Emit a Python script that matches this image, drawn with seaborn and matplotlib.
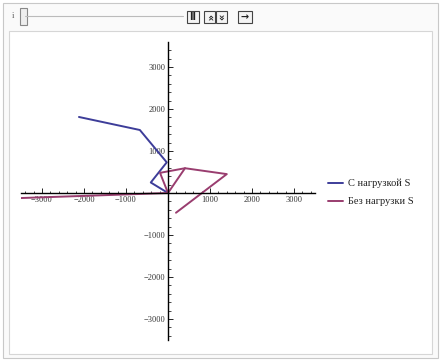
import numpy as np
import pandas as pd
import matplotlib
matplotlib.use("Agg")
import matplotlib.pyplot as plt
from matplotlib.patches import Rectangle
import seaborn as sns

# series data
blue_x = [-2120, -670, -30, -410, 0]
blue_y = [1810, 1500, 730, 250, 0]
red_x = [-3500, 0, -190, 405, 1400, 190]
red_y = [-120, 0, 480, 590, 450, -470]
red2_x = [0, 405]
red2_y = [0, 590]

names = ["С нагрузкой S", "Без нагрузки S"]
colors = ["#3d3d99", "#993d6f"]
ticks = [-3000, -2000, -1000, 1000, 2000, 3000]
tick_labels = ["\u22123000", "\u22122000", "\u22121000", "1000", "2000", "3000"]

df = pd.concat([
    pd.DataFrame({"x": blue_x, "y": blue_y, "series": names[0], "seg": 0, "o": range(len(blue_x))}),
    pd.DataFrame({"x": red_x, "y": red_y, "series": names[1], "seg": 1, "o": range(len(red_x))}),
    pd.DataFrame({"x": red2_x, "y": red2_y, "series": names[1], "seg": 2, "o": range(len(red2_x))}),
])

sns.set_style("white")
plt.rcParams["font.family"] = ["Liberation Serif", "DejaVu Serif"]

W, H = 441, 362
fig = plt.figure(figsize=(W / 100, H / 100), dpi=100)

def px(x, y):
    return x / W, 1 - y / H

# frame of the manipulate panel
fig.patches.append(Rectangle(px(3, 358), 435 / W, 355 / H, transform=fig.transFigure,
                             facecolor="#fafafa", edgecolor="#c8c8c8", lw=0.8, zorder=-5))
fig.patches.append(Rectangle(px(9, 354), 423 / W, 323 / H, transform=fig.transFigure,
                             facecolor="white", edgecolor="#d6d6d6", lw=0.8, zorder=-4))

# slider row
fig.text(*px(13, 16), "i", fontsize=6, color="#555555", ha="center", va="center")
fig.lines.append(plt.Line2D([25 / W, 183 / W], [1 - 16 / H] * 2, transform=fig.transFigure,
                            color="#bbbbbb", lw=0.8))
fig.patches.append(Rectangle(px(20, 25), 7 / W, 17 / H, transform=fig.transFigure,
                             facecolor="#eeeeee", edgecolor="#888888", lw=0.8))
for x0, w, s, rot in [(187, 12, "II", 0), (204, 11, "\u00ab", -90),
                      (216, 11, "\u00ab", 90), (238, 14, "\u2192", 0)]:
    fig.patches.append(Rectangle(px(x0, 23), w / W, 12 / H, transform=fig.transFigure,
                                 facecolor="#f4f4f4", edgecolor="#444444", lw=0.8))
    fig.text(*px(x0 + w / 2, 17), s, fontsize=7, ha="center", va="center", rotation=rot,
             color="#222222", family=["DejaVu Sans"], fontweight="bold")

ax = fig.add_axes([21 / W, 1 - 340 / H, 294 / W, 298.2 / H])
ax.set_zorder(3)
sns.lineplot(data=df, x="x", y="y", hue="series", units="seg", estimator=None,
             sort=False, palette=colors, lw=1.4, ax=ax, legend=False)
ax.set_xlim(-3500, 3500)
ax.set_ylim(-3500, 3600)
ax.set_facecolor("none")
ax.set_xlabel("")
ax.set_ylabel("")
for s in ["top", "right"]:
    ax.spines[s].set_visible(False)
ax.spines["left"].set_position(("data", 0))
ax.spines["bottom"].set_position(("data", 0))
for s in ["left", "bottom"]:
    ax.spines[s].set_color("black")
    ax.spines[s].set_linewidth(1.0)

ax.set_xticks(ticks)
ax.set_xticklabels(tick_labels)
ax.set_yticks(ticks)
ax.set_yticklabels(tick_labels)
ax.set_xticks(np.arange(-3400, 3500, 200), minor=True)
ax.set_yticks(np.arange(-3400, 3600, 200), minor=True)
ax.tick_params(which="major", direction="in", length=3.5, width=0.6, labelsize=6,
               colors="black", pad=2, labelcolor="#333333")
ax.tick_params(which="minor", direction="in", length=1.8, width=0.5, colors="black")
ax.tick_params(axis="both", which="both", left=True, bottom=True)

# legend
for i, (n, c) in enumerate(zip(names, colors)):
    yy = 1 - (183 + 18 * i) / H
    fig.lines.append(plt.Line2D([328 / W, 343 / W], [yy, yy], transform=fig.transFigure,
                                color=c, lw=1.4))
    fig.text(348 / W, yy, n, fontsize=7.5, va="center", ha="left", color="#222222")

fig.savefig("out.png", dpi=100, facecolor="white")
